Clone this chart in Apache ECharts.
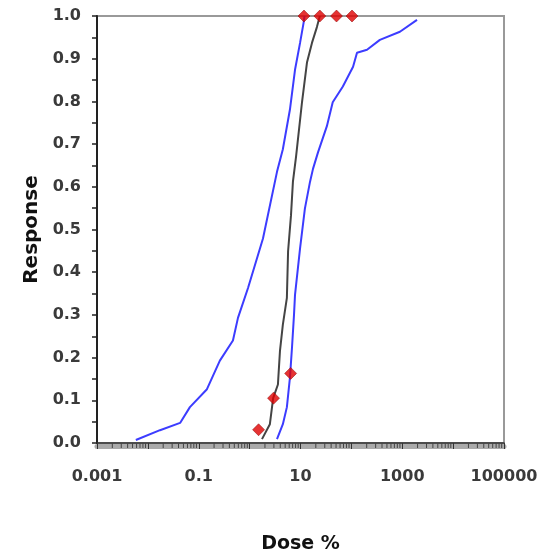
<!DOCTYPE html>
<html>
<head>
<meta charset="utf-8">
<script src="https://cdn.jsdelivr.net/npm/echarts@6/dist/echarts.min.js"></script>
<style>html,body{margin:0;padding:0;background:#fff}#c{width:556px;height:559px}</style>
</head>
<body>
<div id="c"></div>
<script>
// Dose (%) vs Response
const lowerBound = [[0.0058,0.007],[0.0173,0.03],[0.043,0.047],[0.067,0.084],[0.145,0.126],[0.26,0.193],[0.47,0.24],[0.59,0.293],[0.93,0.363],[1.83,0.479],[3.45,0.635],[4.5,0.688],[6.2,0.781],[7.8,0.874],[9.8,0.937],[11.5,0.984],[12,1.0]];
const fitted = [[1.75,0.009],[2.5,0.044],[2.9,0.105],[3.6,0.137],[3.95,0.216],[4.5,0.277],[5.4,0.34],[5.7,0.449],[6.5,0.533],[7.1,0.612],[8.2,0.672],[10.7,0.798],[13.4,0.891],[16.8,0.937],[21,0.974],[24,1.0]];
const upperBound = [[3.45,0.009],[4.5,0.044],[5.4,0.084],[6.2,0.153],[6.8,0.223],[7.45,0.3],[7.8,0.347],[9.8,0.456],[12.2,0.549],[15.4,0.612],[17.6,0.642],[22,0.68],[33,0.742],[43,0.798],[68,0.835],[108,0.881],[129,0.914],[203,0.921],[363,0.944],[900,0.963],[1950,0.991]];
const observed = [[1.5,0.031],[2.95,0.105],[6.4,0.163],[11.7,1],[24,1],[51,1],[103,1]];
const xTickLabels = ['0.001','0.1','10','1000','100000'];
const xMin = 0.001, xMax = 100000;
const minorMultipliers = [2,3,4,5,6,7,8,9];

const minorTicks = [];
for (let e = -3; e < 5; e++) {
  minorMultipliers.forEach(m => minorTicks.push([m * Math.pow(10, e), 0]));
}

const chart = echarts.init(document.getElementById('c'), null, {renderer: 'canvas'});
const labelFont = {fontFamily: 'DejaVu Sans', fontWeight: 'bold', fontSize: 16, color: '#3a3a3a'};

chart.setOption({
  animation: false,
  backgroundColor: '#fff',
  grid: {left: 97, right: 52, top: 16, bottom: 113, show: true, borderColor: '#999', borderWidth: 2, containLabel: false},
  xAxis: [{
    type: 'log', logBase: 10, min: xMin, max: xMax, splitNumber: 8,
    name: 'Dose %', nameLocation: 'middle', nameGap: 92,
    nameTextStyle: {fontFamily: 'DejaVu Sans', fontWeight: 'bold', fontSize: 19, color: '#111'},
    axisLine: {show: true, lineStyle: {color: '#333', width: 1.5}},
    axisTick: {show: true, inside: false, length: 6, lineStyle: {color: '#333', width: 1}},
    splitLine: {show: false},
    axisLabel: Object.assign({}, labelFont, {
      margin: 26,
      formatter: function (v) {
        const e = Math.round(Math.log10(v));
        const idx = (e + 3) / 2;
        return Number.isInteger(idx) ? xTickLabels[idx] : '';
      }
    })
  }, {
    type: 'log', logBase: 10, min: xMin, max: xMax, position: 'bottom', offset: 3,
    axisLine: {show: true, lineStyle: {color: '#aaa', width: 5}},
    axisTick: {show: false}, axisLabel: {show: false}, splitLine: {show: false}
  }],
  yAxis: {
    type: 'value', min: 0, max: 1, interval: 0.1,
    name: 'Response', nameLocation: 'middle', nameGap: 55,
    nameTextStyle: {fontFamily: 'DejaVu Sans', fontWeight: 'bold', fontSize: 20, color: '#111'},
    axisLine: {show: true, lineStyle: {color: '#222', width: 2}},
    axisTick: {show: true, inside: false, length: 5, lineStyle: {color: '#222', width: 1.5}},
    minorTick: {show: true, splitNumber: 2, length: 5, lineStyle: {color: '#222', width: 1.5}},
    splitLine: {show: false},
    axisLabel: Object.assign({}, labelFont, {margin: 16, formatter: v => v.toFixed(1)})
  },
  series: [
    {type: 'custom', xAxisIndex: 0, data: minorTicks, silent: true, z: 5,
      renderItem: function (params, api) {
        const p = api.coord([api.value(0), 0]);
        return {type: 'line', shape: {x1: p[0], y1: p[1], x2: p[0], y2: p[1] + 5},
          style: {stroke: '#444', lineWidth: 1}};
      }},
    {type: 'line', data: lowerBound, showSymbol: false, smooth: false, lineStyle: {color: '#3c3cff', width: 2}},
    {type: 'line', data: fitted, showSymbol: false, smooth: false, lineStyle: {color: '#444', width: 2}},
    {type: 'line', data: upperBound, showSymbol: false, smooth: false, lineStyle: {color: '#3c3cff', width: 2}},
    {type: 'scatter', data: observed, symbol: 'diamond', symbolSize: 12, clip: false, z: 10,
      itemStyle: {color: '#e00000', borderColor: '#880000', borderWidth: 0.6}}
  ]
});
</script>
</body>
</html>
